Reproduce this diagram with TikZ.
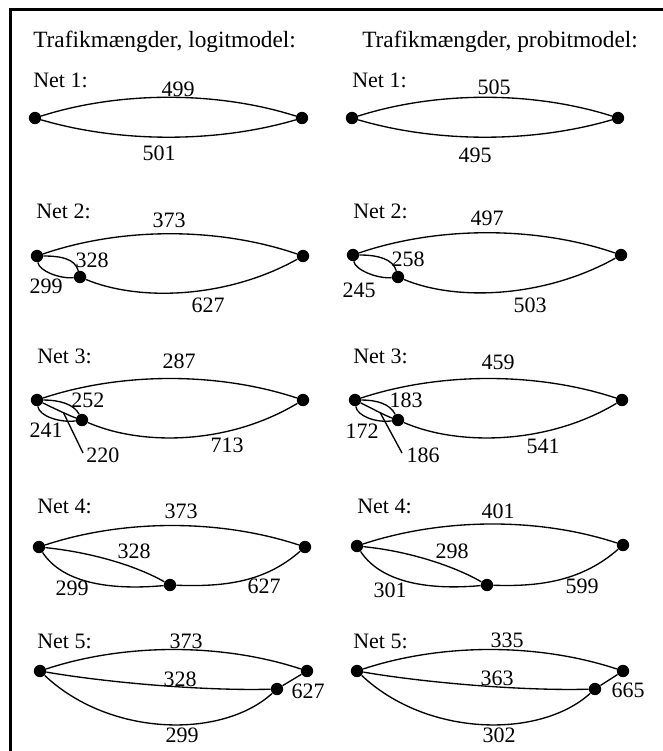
\documentclass[tikz,border=0pt]{standalone}
\usepackage{fontspec}
\setmainfont{Liberation Serif}
\begin{document}
\begin{tikzpicture}[x=0.75pt,y=-0.75pt,
  dot/.style={circle,fill=black,inner sep=0pt,minimum size=9.3pt},
  link/.style={line width=1pt},
  num/.style={anchor=base,inner sep=0pt,font=\fontsize{16.5}{18}\selectfont},
  netname/.style={anchor=base west,inner sep=0pt,font=\fontsize{16.5}{18}\selectfont},
  heading/.style={anchor=base west,inner sep=0pt,font=\fontsize{17.5}{20}\selectfont},
  frame/.style={line width=2.25pt}]
\useasboundingbox (0,0) rectangle (663,751);

% frame: top and left edges only
\draw[frame] (10,751) -- (10,9) -- (663,9);

% column headings
\node[heading] (hL) at (33,47) {Trafikmængder, logitmodel:};
\node[heading] (hR) at (362,47) {Trafikmængder, probitmodel:};

% ---------------- Net 1 ----------------
\node[netname] (n1L) at (33,87) {Net 1:};
\node[dot] (a1L) at (35,118) {};
\node[dot] (c1L) at (302,118) {};
\draw[link] (a1L) .. controls +(85,-27) and +(-85,-27) .. (c1L);
\draw[link] (a1L) .. controls +(85,25) and +(-85,25) .. (c1L);
\node[num] (u1L) at (178,96) {499};
\node[num] (d1L) at (159,160) {501};

\node[netname] (n1R) at (352,87) {Net 1:};
\node[dot] (a1R) at (352,118) {};
\node[dot] (c1R) at (618,118) {};
\draw[link] (a1R) .. controls +(85,-27) and +(-85,-27) .. (c1R);
\draw[link] (a1R) .. controls +(85,25) and +(-85,25) .. (c1R);
\node[num] (u1R) at (494,94) {505};
\node[num] (d1R) at (475,162) {495};

% ---------------- Net 2 ----------------
\node[netname] (n2L) at (36,218) {Net 2:};
\node[dot] (a2L) at (37,256) {};
\node[dot] (b2L) at (80,277) {};
\node[dot] (c2L) at (303,256) {};
\draw[link] (a2L) .. controls +(85,-29) and +(-85,-29) .. (c2L);
\draw[link] (a2L) .. controls +(25,0) and +(-5,-18) .. (b2L);
\draw[link] (a2L) .. controls +(2,15) and +(-20,2) .. (b2L);
\draw[link] (b2L) .. controls +(60,25) and +(-75,42) .. (c2L);
\node[num] (t2L) at (169,227) {373};
\node[num] (p2L) at (92,267) {328};
\node[num] (q2L) at (46,293) {299};
\node[num] (r2L) at (208,312) {627};

\node[netname] (n2R) at (353,218) {Net 2:};
\node[dot] (a2R) at (353,255) {};
\node[dot] (b2R) at (398,277) {};
\node[dot] (c2R) at (621,255) {};
\draw[link] (a2R) .. controls +(85,-29) and +(-85,-29) .. (c2R);
\draw[link] (a2R) .. controls +(25,0) and +(-5,-18) .. (b2R);
\draw[link] (a2R) .. controls +(2,15) and +(-20,2) .. (b2R);
\draw[link] (b2R) .. controls +(60,25) and +(-75,42) .. (c2R);
\node[num] (t2R) at (487,225) {497};
\node[num] (p2R) at (408,266) {258};
\node[num] (q2R) at (359,297) {245};
\node[num] (r2R) at (530,312) {503};

% ---------------- Net 3 ----------------
\node[netname] (n3L) at (37,363) {Net 3:};
\node[dot] (a3L) at (37,400) {};
\node[dot] (b3L) at (82,420) {};
\node[dot] (c3L) at (303,400) {};
\draw[link] (a3L) .. controls +(85,-28) and +(-85,-28) .. (c3L);
\draw[link] (a3L) .. controls +(22,0) and +(-8,-16) .. (b3L);
\draw[link] (a3L) .. controls +(12,6) and +(-12,-4) .. (b3L) coordinate[pos=0.6] (m3L);
\draw[link] (a3L) .. controls +(2,16) and +(-22,3) .. (b3L);
\draw[link] (b3L) .. controls +(60,26) and +(-75,45) .. (c3L);
\node[num] (t3L) at (179,368) {287};
\node[num] (p3L) at (88,407) {252};
\node[num] (q3L) at (46,437) {241};
\node[num] (s3L) at (103,462) {220};
\node[num] (r3L) at (227,452) {713};
\coordinate (e3L) at (83,453);
\draw[link] (m3L) -- (e3L);

\node[netname] (n3R) at (353,363) {Net 3:};
\node[dot] (a3R) at (355,400) {};
\node[dot] (b3R) at (398,420) {};
\node[dot] (c3R) at (622,400) {};
\draw[link] (a3R) .. controls +(85,-28) and +(-85,-28) .. (c3R);
\draw[link] (a3R) .. controls +(22,0) and +(-8,-16) .. (b3R);
\draw[link] (a3R) .. controls +(12,6) and +(-12,-4) .. (b3R) coordinate[pos=0.6] (m3R);
\draw[link] (a3R) .. controls +(2,16) and +(-22,3) .. (b3R);
\draw[link] (b3R) .. controls +(60,26) and +(-75,45) .. (c3R);
\node[num] (t3R) at (498,369) {459};
\node[num] (p3R) at (406,407) {183};
\node[num] (q3R) at (362,438) {172};
\node[num] (s3R) at (423,462) {186};
\node[num] (r3R) at (543,453) {541};
\coordinate (e3R) at (402,453);
\draw[link] (m3R) -- (e3R);

% ---------------- Net 4 ----------------
\node[netname] (n4L) at (37,513) {Net 4:};
\node[dot] (a4L) at (39,547) {};
\node[dot] (b4L) at (170,585) {};
\node[dot] (c4L) at (305,547) {};
\draw[link] (a4L) .. controls +(85,-28) and +(-85,-28) .. (c4L);
\draw[link] (a4L) .. controls +(50,5) and +(-35,-20) .. (b4L);
\draw[link] (a4L) .. controls +(25,38) and +(-55,5) .. (b4L);
\draw[link] (b4L) .. controls +(55,2) and +(-40,35) .. (c4L);
\node[num] (t4L) at (181,518) {373};
\node[num] (p4L) at (134,558) {328};
\node[num] (q4L) at (72,595) {299};
\node[num] (r4L) at (264,593) {627};

\node[netname] (n4R) at (357,513) {Net 4:};
\node[dot] (a4R) at (357,546) {};
\node[dot] (b4R) at (487,585) {};
\node[dot] (c4R) at (623,545) {};
\draw[link] (a4R) .. controls +(85,-28) and +(-85,-28) .. (c4R);
\draw[link] (a4R) .. controls +(50,5) and +(-35,-20) .. (b4R);
\draw[link] (a4R) .. controls +(25,38) and +(-55,5) .. (b4R);
\draw[link] (b4R) .. controls +(55,2) and +(-40,35) .. (c4R);
\node[num] (t4R) at (498,518) {401};
\node[num] (p4R) at (452,558) {298};
\node[num] (q4R) at (390,597) {301};
\node[num] (r4R) at (582,593) {599};

% ---------------- Net 5 ----------------
\node[netname] (n5L) at (37,648) {Net 5:};
\node[dot] (a5L) at (40,671) {};
\node[dot] (b5L) at (277,689) {};
\node[dot] (c5L) at (307,671) {};
\draw[link] (a5L) .. controls +(85,-28) and +(-85,-28) .. (c5L);
\draw[link] (a5L) .. controls +(70,12) and +(-70,2) .. (b5L);
\draw[link] (a5L) .. controls +(70,66) and +(-55,50) .. (b5L);
\draw[link] (b5L) -- (c5L);
\node[num] (t5L) at (186,648) {373};
\node[num] (p5L) at (180,686) {328};
\node[num] (r5L) at (308,698) {627};
\node[num] (q5L) at (182,742) {299};

\node[netname] (n5R) at (353,648) {Net 5:};
\node[dot] (a5R) at (357,671) {};
\node[dot] (b5R) at (595,689) {};
\node[dot] (c5R) at (623,671) {};
\draw[link] (a5R) .. controls +(85,-28) and +(-85,-28) .. (c5R);
\draw[link] (a5R) .. controls +(70,12) and +(-70,2) .. (b5R);
\draw[link] (a5R) .. controls +(70,66) and +(-55,50) .. (b5R);
\draw[link] (b5R) -- (c5R);
\node[num] (t5R) at (507,647) {335};
\node[num] (p5R) at (497,685) {363};
\node[num] (r5R) at (628,697) {665};
\node[num] (q5R) at (499,742) {302};
\end{tikzpicture}
\end{document}
